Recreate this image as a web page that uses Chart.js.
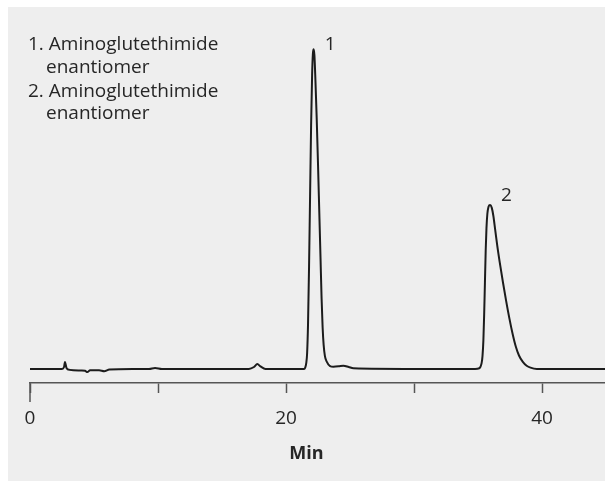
<!DOCTYPE html>
<html>
<head>
<meta charset="utf-8">
<script src="https://cdn.jsdelivr.net/npm/chart.js@4/dist/chart.umd.min.js"></script>
<style>
  html, body { margin: 0; padding: 0; background: #fff; }
  #wrap { width: 605px; height: 481px; }
</style>
</head>
<body>
<div id="wrap"><canvas id="chrom"></canvas></div>
<script>
// detector trace, time in minutes
const times = [
  0, 2.5, 2.66, 2.73, 2.85, 3.1, 4.0, 4.3, 4.48, 4.7, 5.4, 5.8, 6.2, 8.0,
  9.3, 9.77, 10.3, 17.1, 17.5, 17.76, 18.0, 18.4, 21.3,
  21.41, 21.5, 21.58, 21.65, 21.72, 21.8, 21.88, 21.96, 22.04, 22.1, 22.16,
  22.22, 22.3, 22.4, 22.5, 22.6, 22.7, 22.78, 22.86, 22.94, 23.04, 23.18,
  23.44, 23.7, 24.1, 24.48, 24.9, 25.26, 30.0, 34.6,
  34.77, 35.1, 35.28, 35.35, 35.42, 35.48, 35.54, 35.6, 35.66, 35.73, 35.82, 35.94,
  36.07, 36.2, 36.35, 36.5, 36.7, 36.95, 37.2, 37.45, 37.7, 37.95, 38.2,
  38.5, 38.8, 39.1, 39.6, 44.92,
];
const signal = [
  0, 0, 0.6, 2.2, 0.3, -0.3, -0.5, -0.6, -1.0, -0.4, -0.4, -0.7, -0.2, 0,
  0, 0.3, 0, 0, 0.6, 1.5, 0.8, 0, 0,
  0, 0.4, 1.8, 5, 14, 32, 54, 76, 92, 98.5, 99.9,
  98, 90, 78, 64, 49, 34, 22, 13, 7.5, 4, 2.3,
  0.9, 0.7, 0.8, 1.0, 0.6, 0.2, 0, 0,
  0, 0.2, 1.8, 4, 9, 17, 27, 37, 44, 48.5, 50.7, 51.25,
  50.4, 47.8, 43.2, 38.6, 33.2, 27.0, 21.2, 15.8, 11.0, 7.0, 4.2,
  2.2, 1.0, 0.4, 0, 0,
];

// peak numbering and the apex each number sits beside
const peakNames = ['1', '2'];
const peakTimes = [22.16, 35.94];
const peakHeights = [99.9, 51.25];

const legendLines = [
  '1. Aminoglutethimide',
  'enantiomer',
  '2. Aminoglutethimide',
  'enantiomer',
];

const tickLabels = [0, 20, 40];
const axisTitle = 'Min';

const textColor = '#262626';
const axisColor = '#555555';

const points = times.map((t, i) => ({ x: t, y: signal[i] }));

const backdrop = {
  id: 'backdrop',
  beforeDraw(chart) {
    const { ctx, width, height } = chart;
    ctx.save();
    ctx.fillStyle = '#ffffff';
    ctx.fillRect(0, 0, width, height);
    ctx.fillStyle = '#eeeeee';
    ctx.fillRect(8, 7, width - 8, height - 7);
    ctx.restore();
  },
};

const annotations = {
  id: 'annotations',
  afterDraw(chart) {
    const { ctx, chartArea } = chart;
    const xs = chart.scales.x;
    const ys = chart.scales.y;
    ctx.save();

    // longer start tick at zero
    ctx.strokeStyle = axisColor;
    ctx.lineWidth = 1.5;
    ctx.beginPath();
    ctx.moveTo(xs.getPixelForValue(0), chartArea.bottom);
    ctx.lineTo(xs.getPixelForValue(0), chartArea.bottom + 19);
    ctx.stroke();

    // peak numbers
    ctx.fillStyle = textColor;
    ctx.font = '19px "Open Sans"';
    ctx.textAlign = 'center';
    ctx.textBaseline = 'alphabetic';
    const lift = [0, 5];
    peakNames.forEach((name, i) => {
      const px = xs.getPixelForValue(peakTimes[i]);
      const py = ys.getPixelForValue(peakHeights[i]);
      ctx.fillText(name, px + 16.5, py + 1 - lift[i]);
    });

    // compound list
    ctx.textAlign = 'left';
    const baselines = [50, 73, 96.5, 119];
    legendLines.forEach((line, i) => {
      const indent = i % 2 === 1 ? 46 : 28;
      ctx.fillText(line, indent, baselines[i]);
    });

    // time axis title
    ctx.font = 'bold 18px "Open Sans"';
    ctx.textAlign = 'center';
    ctx.fillText(axisTitle, 306.5, 459);

    ctx.restore();
  },
};

new Chart(document.getElementById('chrom'), {
  type: 'line',
  data: {
    datasets: [
      {
        data: points,
        borderColor: '#1c1c1c',
        borderWidth: 2,
        pointRadius: 0,
        fill: false,
        cubicInterpolationMode: 'monotone',
      },
    ],
  },
  options: {
    responsive: true,
    maintainAspectRatio: false,
    animation: false,
    events: [],
    layout: { padding: { left: 30, top: 8, right: 0, bottom: 0 } },
    plugins: {
      legend: { display: false },
      tooltip: { enabled: false },
    },
    scales: {
      x: {
        type: 'linear',
        min: 0,
        max: 44.92,
        afterFit: (scale) => {
          scale.height = 98;
        },
        border: { display: true, color: axisColor, width: 1.5 },
        grid: {
          drawOnChartArea: false,
          drawTicks: true,
          tickLength: 10,
          tickColor: axisColor,
          tickWidth: 1.5,
        },
        ticks: {
          stepSize: 10,
          includeBounds: false,
          autoSkip: false,
          maxRotation: 0,
          padding: 14,
          color: textColor,
          font: { family: '"Open Sans"', size: 19 },
          callback: (value) => (tickLabels.includes(value) ? String(value) : ''),
        },
      },
      y: {
        display: false,
        min: -4.4,
        max: 112.8,
      },
    },
  },
  plugins: [backdrop, annotations],
});
</script>
</body>
</html>
